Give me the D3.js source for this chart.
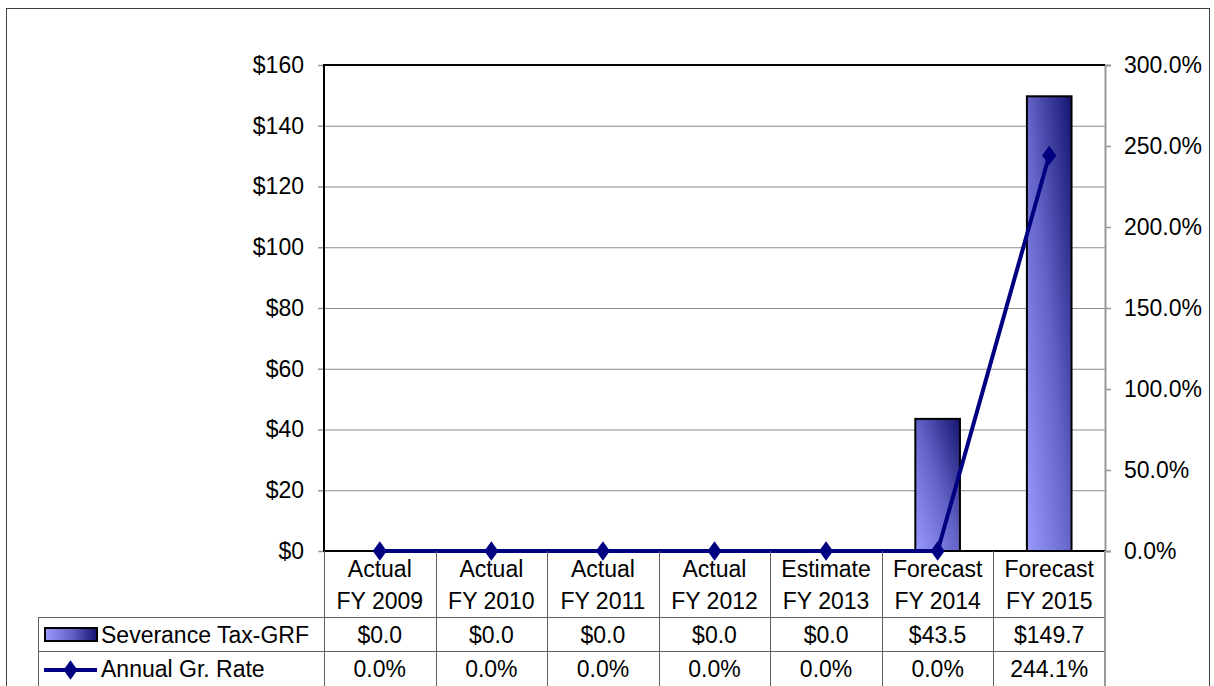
<!DOCTYPE html>
<html>
<head>
<meta charset="utf-8">
<script src="https://cdn.jsdelivr.net/npm/d3@7"></script>
<style>
  html, body { margin: 0; padding: 0; background: #fff; }
  svg { display: block; font-family: "Liberation Sans", Arial, sans-serif; }
</style>
</head>
<body>
<svg id="chart" width="1214" height="686"></svg>
<script>
// Severance tax receipts (GRF, $ millions) and annual growth rate
const catTop = ["Actual", "Actual", "Actual", "Actual", "Estimate", "Forecast", "Forecast"];
const catYear = ["FY 2009", "FY 2010", "FY 2011", "FY 2012", "FY 2013", "FY 2014", "FY 2015"];
const severance = [0, 0, 0, 0, 0, 43.5, 149.7];
const growth = [0, 0, 0, 0, 0, 0, 244.1];
const leftTicks = [0, 20, 40, 60, 80, 100, 120, 140, 160];
const rightTicks = [0, 50, 100, 150, 200, 250, 300];
const seriesNames = ["Severance Tax-GRF", "Annual Gr. Rate"];

const svg = d3.select("#chart");
const plot = { left: 324, right: 1105, top: 65, bottom: 551 };
const rows = { head: 551, r1: 617, r2: 651, end: 700, keyLeft: 38 };
const FS = 23;
const gridColor = "#8c8c8c";
const navy = "#000080";

const defs = svg.append("defs");
function addGrad(id, x1, y1, x2, y2) {
  const g = defs.append("linearGradient").attr("id", id)
    .attr("x1", x1).attr("y1", y1).attr("x2", x2).attr("y2", y2);
  g.append("stop").attr("offset", "0%").attr("stop-color", "#9999ff");
  g.append("stop").attr("offset", "50%").attr("stop-color", "#6464c8");
  g.append("stop").attr("offset", "100%").attr("stop-color", "#141470");
}
addGrad("barGrad", 0, 1, 1, 0);
addGrad("keyGrad", 0, 0, 1, 0);

// chart frame
svg.append("rect").attr("x", 6.5).attr("y", 8.5).attr("width", 1203).attr("height", 700)
  .attr("fill", "#fff").attr("stroke", "#404040").attr("stroke-width", 1);

const x = d3.scaleBand().domain(catYear).range([plot.left, plot.right]).paddingInner(0).paddingOuter(0);
const yL = d3.scaleLinear().domain([0, 160]).range([plot.bottom, plot.top]);
const yR = d3.scaleLinear().domain([0, 300]).range([plot.bottom, plot.top]);

// gridlines
svg.append("g").selectAll("line").data(leftTicks.filter(d => d > 0 && d < 160)).join("line")
  .attr("x1", plot.left).attr("x2", plot.right)
  .attr("y1", d => yL(d) + 0.5).attr("y2", d => yL(d) + 0.5)
  .attr("stroke", gridColor).attr("stroke-width", 1);

// left axis
const axL = svg.append("g").attr("transform", `translate(${plot.left},0)`)
  .call(d3.axisLeft(yL).tickValues(leftTicks).tickFormat(d => "$" + d).tickSize(6).tickPadding(14));
axL.select(".domain").remove();
axL.selectAll(".tick line").attr("stroke", "#999").attr("stroke-width", 1.5);
axL.selectAll(".tick text").attr("font-size", FS).attr("font-family", "Liberation Sans, Arial, sans-serif").attr("fill", "#000");

// right axis
const axR = svg.append("g").attr("transform", `translate(${plot.right},0)`)
  .call(d3.axisRight(yR).tickValues(rightTicks).tickFormat(d => d.toFixed(1) + "%").tickSize(6).tickPadding(13));
axR.select(".domain").attr("stroke", "#999").attr("stroke-width", 2);
axR.selectAll(".tick line").attr("stroke", "#999").attr("stroke-width", 1.5);
axR.selectAll(".tick text").attr("font-size", FS).attr("font-family", "Liberation Sans, Arial, sans-serif").attr("fill", "#000");

// bars
const bw = x.bandwidth() * 0.4;
svg.append("g").selectAll("rect").data(severance.map((v, i) => ({ v, c: catYear[i] })).filter(d => d.v > 0)).join("rect")
  .attr("x", d => x(d.c) + (x.bandwidth() - bw) / 2)
  .attr("y", d => yL(d.v))
  .attr("width", bw)
  .attr("height", d => yL(0) - yL(d.v))
  .attr("fill", "url(#barGrad)")
  .attr("stroke", "#000").attr("stroke-width", 2);

// plot border (top, left, bottom)
svg.append("path")
  .attr("d", `M${plot.right},${plot.top} H${plot.left} V${plot.bottom} H${plot.right}`)
  .attr("fill", "none").attr("stroke", "#000").attr("stroke-width", 2);

// growth line
const cx = c => x(c) + x.bandwidth() / 2;
svg.append("path")
  .datum(growth.map((v, i) => ({ v, c: catYear[i] })))
  .attr("d", d3.line().x(d => cx(d.c)).y(d => yR(d.v)))
  .attr("fill", "none").attr("stroke", navy).attr("stroke-width", 4).attr("stroke-linejoin", "round");
const diamond = d3.symbol().type(d3.symbolDiamond).size(110);
svg.append("g").selectAll("path").data(growth.map((v, i) => ({ v, c: catYear[i] }))).join("path")
  .attr("transform", d => `translate(${cx(d.c)},${yR(d.v)}) scale(1.25,1)`)
  .attr("d", diamond).attr("fill", navy);

// data table grid
const tg = svg.append("g").attr("stroke", "#606060").attr("stroke-width", 1);
catYear.forEach(c => {
  const b = Math.round(x(c)) + 0.5;
  tg.append("line").attr("x1", b).attr("x2", b).attr("y1", rows.head).attr("y2", rows.end);
});
tg.append("line").attr("x1", rows.keyLeft + 0.5).attr("x2", rows.keyLeft + 0.5).attr("y1", rows.r1).attr("y2", rows.end);
[rows.r1, rows.r2].forEach(yy => {
  tg.append("line").attr("x1", rows.keyLeft).attr("x2", plot.right).attr("y1", yy + 0.5).attr("y2", yy + 0.5);
});
svg.append("line").attr("x1", plot.right).attr("x2", plot.right).attr("y1", rows.head).attr("y2", rows.end)
  .attr("stroke", "#999").attr("stroke-width", 2);

// table text
const tt = svg.append("g").attr("font-size", FS).attr("text-anchor", "middle").attr("fill", "#000");
catYear.forEach((c, i) => {
  tt.append("text").attr("x", cx(c)).attr("y", 577).text(catTop[i]);
  tt.append("text").attr("x", cx(c)).attr("y", 609).text(c);
  tt.append("text").attr("x", cx(c)).attr("y", 643).text("$" + severance[i].toFixed(1));
  tt.append("text").attr("x", cx(c)).attr("y", 677).text(growth[i].toFixed(1) + "%");
});

// legend keys
svg.append("rect").attr("x", 45).attr("y", 628).attr("width", 52).attr("height", 13)
  .attr("fill", "url(#keyGrad)").attr("stroke", "#000").attr("stroke-width", 2);
svg.append("text").attr("x", 101).attr("y", 643).attr("font-size", FS).text(seriesNames[0]);
svg.append("line").attr("x1", 44).attr("x2", 97).attr("y1", 670).attr("y2", 670)
  .attr("stroke", navy).attr("stroke-width", 4);
svg.append("path").attr("transform", "translate(70.5,670) scale(1.25,1)").attr("d", diamond).attr("fill", navy);
svg.append("text").attr("x", 101).attr("y", 677).attr("font-size", FS).text(seriesNames[1]);
</script>
</body>
</html>
